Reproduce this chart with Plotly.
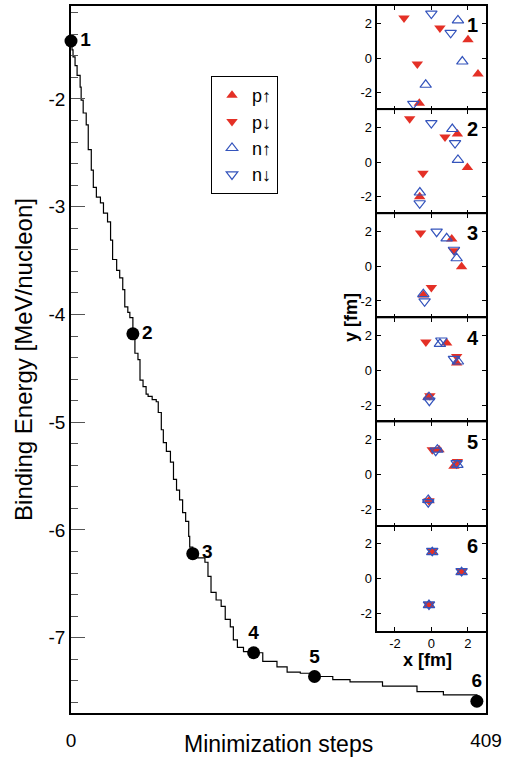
import plotly.graph_objects as go

# ---------------- main curve data ----------------
steps = [0, 1, 2, 4, 6, 9, 10, 12, 15, 17, 20, 22, 25, 29, 32, 36, 39, 41, 45, 48,
         51, 53, 56, 58, 61, 63, 66, 68, 71, 74, 76, 80, 84, 86, 89, 91, 94, 98, 101,
         104, 107, 110, 113, 116, 117, 120, 125, 132, 135, 138, 143, 148, 152, 157,
         160, 164, 170, 180, 189, 203, 213, 226, 240, 258, 275, 307, 341, 367, 400]
energy = [-1.462, -1.545, -1.61, -1.69, -1.78, -1.89, -2.01, -2.13, -2.24, -2.47,
          -2.66, -2.82, -2.91, -2.965, -3.06, -3.14, -3.31, -3.49, -3.59, -3.66,
          -3.77, -3.93, -3.98, -4.03, -4.18, -4.36, -4.42, -4.61, -4.67, -4.74,
          -4.76, -4.79, -4.81, -4.91, -5.07, -5.19, -5.27, -5.37, -5.53, -5.63,
          -5.72, -5.84, -5.92, -6.06, -6.16, -6.22, -6.26, -6.30, -6.43, -6.58,
          -6.65, -6.71, -6.83, -6.90, -7.02, -7.09, -7.13, -7.14, -7.22, -7.27,
          -7.32, -7.33, -7.36, -7.39, -7.41, -7.45, -7.50, -7.53, -7.59]

snap_steps = [0, 61, 120, 180, 240, 400]
snap_energy = [-1.462, -4.18, -6.22, -7.14, -7.36, -7.59]
snap_labels = ["1", "2", "3", "4", "5", "6"]

x_ticks = [0, 409]
y_ticks = [-2, -3, -4, -5, -6, -7]

# ---------------- inset data (x, y in fm), one list per snapshot ----------------
p_up_x = [[2.01, 2.56, -0.66], [1.43, 1.98, -0.64], [1.12, 1.66, -0.44],
          [0.84, 1.39, -0.19], [0.42, 1.24, -0.13], [0.05, 1.66, -0.13]]
p_up_y = [[1.06, -0.92, -2.60], [1.62, -0.31, -1.99], [1.57, -0.03, -1.66],
          [1.57, 0.42, -1.55], [1.43, 0.47, -1.51], [1.52, 0.37, -1.53]]
p_dn_x = [[-1.50, 0.47, -0.77], [-1.19, 0.75, -0.46], [-0.59, 1.24, 0.0],
          [-0.30, 1.39, -0.08], [0.05, 1.43, -0.13], [0.05, 1.66, -0.13]]
p_dn_y = [[2.31, 1.73, -0.35], [2.50, 1.45, -0.64], [1.92, 0.90, -1.22],
          [1.63, 0.80, -1.46], [1.43, 0.74, -1.51], [1.60, 0.43, -1.49]]
n_up_x = [[1.46, 1.70, -0.31], [1.15, 1.46, -0.63], [0.84, 1.39, -0.44],
          [0.47, 1.46, -0.13], [0.33, 1.43, -0.17], [0.05, 1.66, -0.13]]
n_up_y = [[2.17, -0.20, -1.54], [1.91, 0.13, -1.75], [1.61, 0.46, -1.61],
          [1.53, 0.51, -1.55], [1.43, 0.55, -1.47], [1.52, 0.37, -1.53]]
n_dn_x = [[0.0, 1.06, -0.99], [0.0, 1.30, -0.64], [0.29, 1.24, -0.37],
          [0.55, 1.24, -0.11], [0.24, 1.39, -0.17], [0.05, 1.66, -0.13]]
n_dn_y = [[2.56, 1.45, -2.64], [2.25, 1.10, -2.37], [1.99, 0.95, -2.02],
          [1.72, 0.66, -1.75], [1.37, 0.65, -1.60], [1.60, 0.43, -1.49]]
inset_ticks = [-2, 0, 2]

RED = "rgb(228,48,38)"
BLUE = "rgb(52,84,188)"
FONT = "Liberation Sans"

def hyphen_labels(vals):
    return [str(v) for v in vals]  # plain ASCII hyphen-minus as in the reference

fig = go.Figure()

# main curve
fig.add_trace(go.Scatter(x=steps, y=energy, mode="lines", line=dict(color="black", width=1.2, shape="hv"),
                         showlegend=False, hoverinfo="skip"))
# snapshot points
positions = ["middle right"] * 3 + ["top center"] * 3
fig.add_trace(go.Scatter(x=snap_steps, y=snap_energy, mode="markers+text", text=snap_labels,
                         textposition=positions,
                         textfont=dict(family=FONT, size=19, color="black", weight="bold"),
                         marker=dict(color="black", size=13), showlegend=False, cliponaxis=False))

species = [
    ("p↑", p_up_x, p_up_y, dict(symbol="triangle-up", color=RED, size=10)),
    ("p↓", p_dn_x, p_dn_y, dict(symbol="triangle-down", color=RED, size=10)),
    ("n↑", n_up_x, n_up_y, dict(symbol="triangle-up-open", color=BLUE, size=10, line=dict(width=1.2, color=BLUE))),
    ("n↓", n_dn_x, n_dn_y, dict(symbol="triangle-down-open", color=BLUE, size=10, line=dict(width=1.2, color=BLUE))),
]

n_panels = 6
for k in range(n_panels):
    ax = k + 2
    for name, xs, ys, mk in species:
        fig.add_trace(go.Scatter(x=xs[k], y=ys[k], mode="markers", marker=mk, name=name,
                                 legendgroup=name, showlegend=(k == 0),
                                 xaxis=f"x{ax}", yaxis=f"y{ax}", cliponaxis=True))

# layout geometry
W, H = 513, 758
ml, mr, mt, mb = 71, 27, 6, 45
pw = W - ml - mr
ph = H - mt - mb
panel_h = 104.1
inset_x0 = (376.7 - ml) / pw

layout = dict(
    width=W, height=H,
    margin=dict(l=ml, r=mr, t=mt, b=mb, autoexpand=False),
    paper_bgcolor="white", plot_bgcolor="white",
    font=dict(family=FONT, color="black"),
    xaxis=dict(range=[0, 409], tickvals=x_ticks, ticktext=hyphen_labels(x_ticks),
               showline=True, linecolor="black", linewidth=1.5, mirror=True,
               ticks="", showgrid=False, zeroline=False, ticklabelstandoff=9,
               tickfont=dict(size=19), domain=[0, 1], automargin=False),
    yaxis=dict(range=[-7.699, -1.137], tickvals=y_ticks, ticktext=hyphen_labels(y_ticks),
               showline=True, linecolor="black",
               linewidth=1.5, mirror=True, ticks="inside", ticklen=14, tickcolor="#555",
               tickwidth=1.2, minor=dict(dtick=0.2, tick0=0, ticks="inside", ticklen=7, tickcolor="#555", tickwidth=1.2),
               showgrid=False, zeroline=False, tickfont=dict(size=19), automargin=False,
               title=dict(text="Binding Energy [MeV/nucleon]", font=dict(size=24), standoff=9),
               domain=[0, 1]),
    legend=dict(x=(211 - ml) / pw, y=(H - mb - 76) / ph, xanchor="left", yanchor="top",
                bordercolor="black", borderwidth=1, bgcolor="white",
                font=dict(size=18), itemwidth=30, tracegroupgap=0),
    showlegend=True,
)

annotations = []
for k in range(n_panels):
    ax = k + 2
    top_px = mt + k * panel_h
    bot_px = mt + (k + 1) * panel_h
    d0 = (H - mb - bot_px) / ph
    d1 = (H - mb - top_px) / ph
    last = (k == n_panels - 1)
    layout[f"xaxis{ax}"] = dict(domain=[inset_x0, 1.0], anchor=f"y{ax}", range=[-3, 3],
                                tickvals=inset_ticks, ticktext=hyphen_labels(inset_ticks),
                                showticklabels=last, ticks="inside", ticklen=4,
                                tickcolor="black", showline=True, linecolor="black", linewidth=2,
                                mirror="ticks", showgrid=False, zeroline=False, automargin=False,
                                tickfont=dict(size=13))
    layout[f"yaxis{ax}"] = dict(domain=[d0, d1], anchor=f"x{ax}", range=[-3, 3],
                                tickvals=inset_ticks, ticktext=hyphen_labels(inset_ticks),
                                ticks="inside", ticklen=4, tickcolor="black",
                                showline=True, linecolor="black", linewidth=2, mirror="ticks",
                                showgrid=False, zeroline=False, automargin=False,
                                tickfont=dict(size=13))
    annotations.append(dict(text=f"<b>{snap_labels[k]}</b>", xref=f"x{ax} domain", yref=f"y{ax} domain",
                            x=0.88, y=0.815, xanchor="center", yanchor="middle", showarrow=False,
                            font=dict(size=20)))

annotations.append(dict(text="Minimization steps", xref="paper", yref="paper", x=0.5,
                        y=(H - mb - 744) / ph, xanchor="center", yanchor="middle", showarrow=False,
                        font=dict(size=23)))
annotations.append(dict(text="<b>x [fm]</b>", xref="paper", yref="paper",
                        x=(427 - ml) / pw, y=(H - mb - 660) / ph,
                        xanchor="center", yanchor="middle", showarrow=False, font=dict(size=18)))
annotations.append(dict(text="<b>y [fm]</b>", xref="paper", yref="paper",
                        x=(351 - ml) / pw, y=(H - mb - 318) / ph, textangle=-90,
                        xanchor="center", yanchor="middle", showarrow=False, font=dict(size=18)))
layout["annotations"] = annotations

fig.update_layout(**layout)
fig.write_html("out.html", config={"displayModeBar": False},
               post_script="document.body.style.margin='0px';")
